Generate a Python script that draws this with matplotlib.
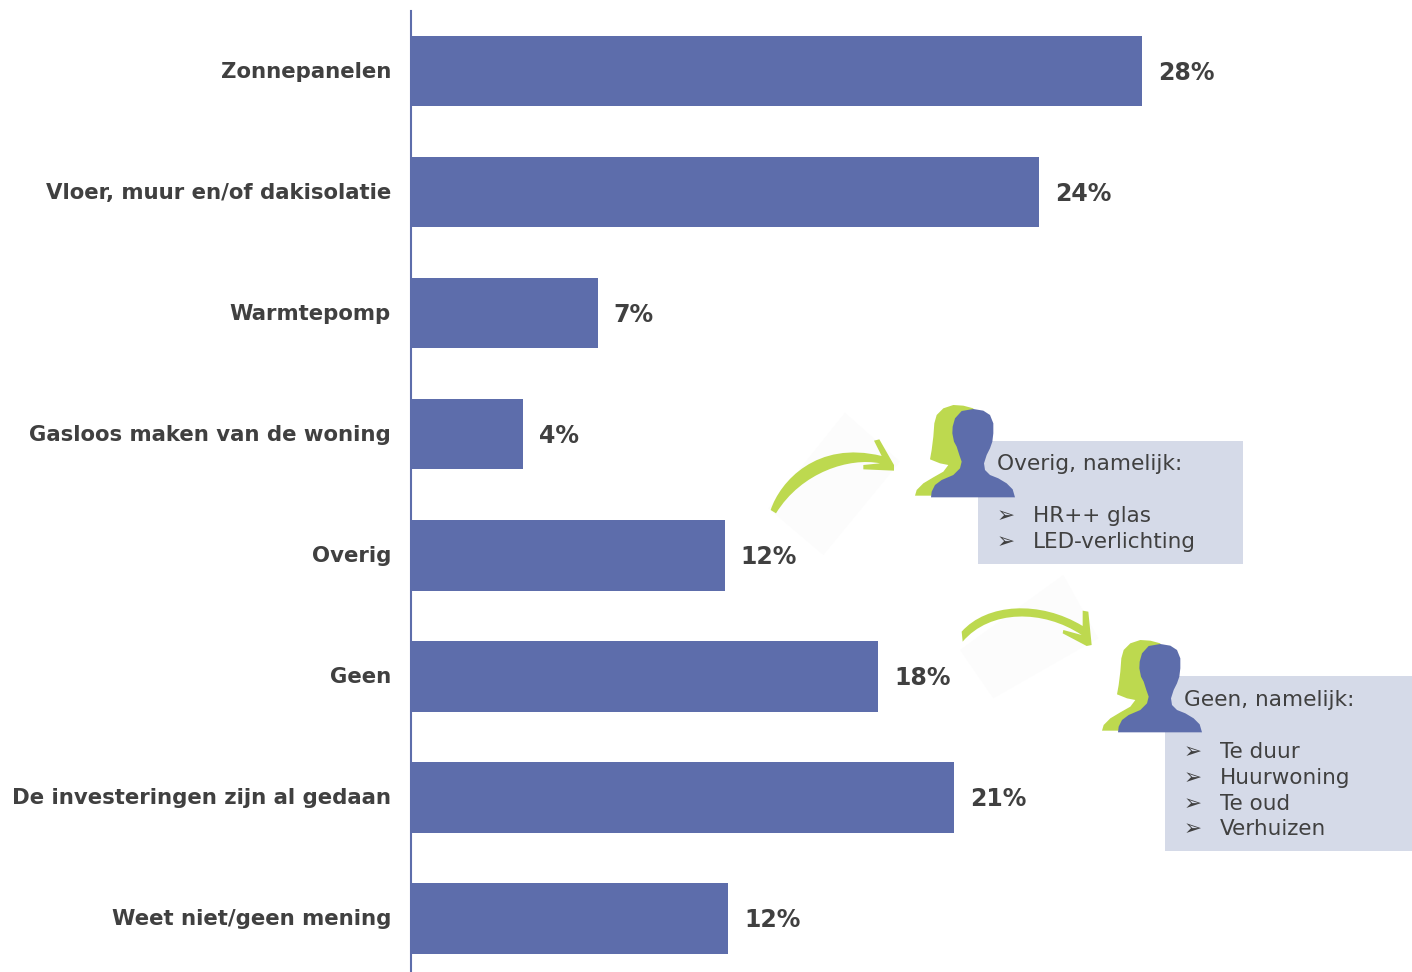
import matplotlib
matplotlib.use("Agg")
import matplotlib.pyplot as plt
from matplotlib.patches import Polygon, Rectangle, PathPatch
from matplotlib.path import Path
from matplotlib.transforms import ScaledTranslation

categories = ["Zonnepanelen", "Vloer, muur en/of dakisolatie", "Warmtepomp",
              "Gasloos maken van de woning", "Overig", "Geen",
              "De investeringen zijn al gedaan", "Weet niet/geen mening"]
values = [28.0, 24.05, 7.15, 4.3, 12.03, 17.9, 20.8, 12.15]
value_labels = ["28%", "24%", "7%", "4%", "12%", "18%", "21%", "12%"]

box_titles = ["Overig, namelijk:", "Geen, namelijk:"]
box_items = [["HR++ glas", "LED-verlichting"],
             ["Te duur", "Huurwoning", "Te oud", "Verhuizen"]]

BLUE = "#5D6DAB"
GREEN = "#BDD94F"
BOX = "#D5DAE8"
TEXT = "#404040"
W, H = 1412, 972

fig = plt.figure(figsize=(W / 100, H / 100), dpi=100, facecolor="white")
plt.rcParams["font.family"] = ["DejaVu Sans"]

# Chart axes
ax = fig.add_axes([411 / W, 0, (W - 411) / W, (H - 11) / H])
ax.barh(range(len(categories)), values, height=70.5 / 121, color=BLUE, zorder=2)
ax.set_xlim(0, (W - 411) / 26.11)
ax.set_ylim((972 - 71.25) / 121, (11 - 71.25) / 121)
ax.set_yticks(range(len(categories)))
ax.set_yticklabels(categories, fontsize=15.3, fontweight="bold", color=TEXT)
ax.tick_params(axis="y", length=0, pad=14.4)
for lab in ax.get_yticklabels():
    lab.set_transform(lab.get_transform() + ScaledTranslation(0, 1.5 / 100, fig.dpi_scale_trans))
ax.xaxis.set_visible(False)
for s in ["top", "right", "bottom"]:
    ax.spines[s].set_visible(False)
ax.spines["left"].set_color(BLUE)
ax.spines["left"].set_linewidth(1.5)
ax.patch.set_alpha(0)
for i, (v, lab) in enumerate(zip(values, value_labels)):
    ax.annotate(lab, (v, i), xytext=(11.3, -1), textcoords="offset points",
                va="center", ha="left", fontsize=17, fontweight="bold", color=TEXT)

# Overlay in pixel coordinates for the callouts
ov = fig.add_axes([0, 0, 1, 1])
ov.set_xlim(0, W)
ov.set_ylim(H, 0)
ov.axis("off")
ov.patch.set_alpha(0)


def z1(pts):
    return [(760 + x / 3, 400 + y / 3) for x, y in pts]


def z2(pts):
    return [(950 + x / 3, 590 + y / 3) for x, y in pts]


def arrow_patch(conv, upper, head, lower):
    verts = conv(upper + head + lower) + [(0, 0)]
    codes = ([Path.MOVETO] + [Path.CURVE4] * 3 + [Path.LINETO] * (len(head))
             + [Path.CURVE4] * 3 + [Path.CLOSEPOLY])
    return PathPatch(Path(verts, codes), fc=GREEN, ec="none", zorder=2)


# faint backdrops of the arrow pictures
ov.add_patch(Polygon(z1([(255, 38), (420, 185), (190, 465), (25, 325)]), fc="#FCFCFC", ec="none", zorder=1))
ov.add_patch(Polygon(z2([(340, -45), (445, 145), (130, 325), (30, 180)]), fc="#FCFCFC", ec="none", zorder=1))

ov.add_patch(arrow_patch(
    z1,
    [(32, 330), (60, 245), (170, 120), (365, 168)],
    [(342, 122), (358, 118), (402, 195), (402, 212), (310, 208), (310, 195), (360, 190)],
    [(270, 172), (125, 215), (48, 340)]))
ov.add_patch(arrow_patch(
    z2,
    [(35, 125), (110, 40), (270, 30), (398, 108)],
    [(398, 62), (415, 65), (425, 165), (410, 168), (338, 130), (340, 120), (395, 135)],
    [(280, 58), (120, 58), (38, 155)]))

green_person = [(465, 287), (470, 270), (490, 250), (520, 232), (550, 215), (565, 195), (540, 190),
                (510, 178), (515, 150), (520, 110), (523, 70), (530, 45), (550, 25), (580, 15),
                (610, 17), (640, 25), (650, 287)]
blue_person = [(513, 292), (765, 292), (758, 268), (740, 250), (715, 235), (690, 225), (675, 210),
               (672, 190), (680, 165), (690, 145), (697, 125), (700, 100), (700, 70), (690, 45),
               (670, 32), (640, 27), (605, 33), (585, 55), (578, 80), (577, 100), (582, 125),
               (590, 140), (598, 165), (605, 185), (600, 205), (580, 225), (545, 240), (525, 255),
               (515, 275)]

boxes = [(978, 441, 265, 123), (1165, 676, 247, 175)]
title_y = [464, 700]
first_item_y = [516, 752]
for k, ((bx, by, bw, bh), dx, dy) in enumerate(zip(boxes, (0, 187), (0, 235))):
    ov.add_patch(Rectangle((bx, by), bw, bh, fc=BOX, ec="none", zorder=3))
    ov.add_patch(Polygon([(x + dx, y + dy) for x, y in z1(green_person)], fc=GREEN, ec="none", zorder=4))
    ov.add_patch(Polygon([(x + dx, y + dy) for x, y in z1(blue_person)], fc=BLUE, ec="none", zorder=5))
    ov.text(bx + 19, title_y[k], box_titles[k], fontsize=15.6, color=TEXT, va="center", ha="left", zorder=6)
    for j, item in enumerate(box_items[k]):
        y = first_item_y[k] + j * 25.8
        ov.text(bx + 19, y, "\u27A2", fontsize=15.5, color=TEXT, va="center", ha="left", zorder=6)
        ov.text(bx + 55, y, item, fontsize=15.5, color=TEXT, va="center", ha="left", zorder=6)

fig.savefig("out.png", dpi=100, facecolor="white")
